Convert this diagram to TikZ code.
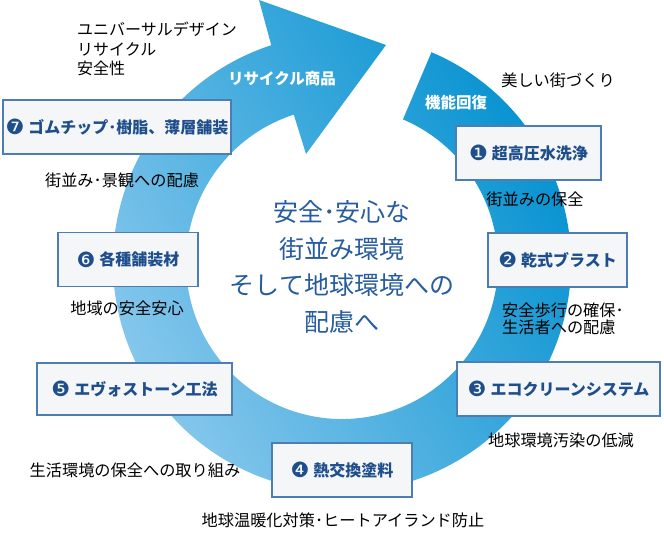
\documentclass[tikz,border=0pt]{standalone}
\usepackage{fontspec}
\setmainfont{Noto Sans CJK JP}
\newfontfamily\dv{DejaVu Sans}
\usetikzlibrary{calc}
\definecolor{ringlight}{HTML}{8DCAEE}
\definecolor{ringdark}{HTML}{0090CF}
\definecolor{boxfill}{HTML}{F4F6F7}
\definecolor{boxline}{HTML}{4C7DB3}
\definecolor{boxtext}{HTML}{1E4E8C}
\definecolor{centertext}{HTML}{275C9E}
\tikzset{
  stepbox/.style={draw=boxline, line width=1.1pt, fill=boxfill, minimum height=54pt,
    inner sep=0pt, text=boxtext, font=\fontsize{16}{18}\selectfont\bfseries},
  note/.style={text=black, inner sep=0pt, font=\fontsize{16.2}{17}\selectfont},
  ringlabel/.style={text=white, inner sep=0pt, font=\fontsize{15.5}{17}\selectfont\bfseries},
}
\newcommand{\numb}[1]{\raisebox{-1.2pt}{\fontsize{21}{21}\dv\mdseries #1}\hspace{4pt}}
\begin{document}
\begin{tikzpicture}[x=1pt,y=1pt]
\useasboundingbox (0,0) rectangle (664,549);
\coordinate (C) at (342,286);
% ring with arrow head
\shade[bottom color=ringlight, top color=ringdark, shading angle=-60]
  ($(C)+(67:229)$) arc[start angle=67, end angle=-252, radius=229]
  -- (259,549) -- (386,504) -- (306,395)
  -- ($(C)+(108:156)$) arc[start angle=108, end angle=427, radius=156] -- cycle;
\node[ringlabel] (lrecy) at (282,470) {リサイクル商品};
\node[ringlabel] (lfunc) at (456,446) {機能回復};
% boxes
\node[stepbox, minimum width=145pt] (b1) at (528.5,396) {\numb{❶}超高圧水洗浄};
\node[stepbox, minimum width=139pt] (b2) at (557.5,289) {\numb{❷}乾式ブラスト};
\node[stepbox, minimum width=203pt] (b3) at (558.5,160) {\numb{❸}エコクリーンシステム};
\node[stepbox, minimum width=140pt] (b4) at (342,79) {\numb{❹}熱交換塗料};
\node[stepbox, minimum width=195pt, minimum height=52pt] (b5) at (134.5,160) {\numb{❺}エヴォストーン工法};
\node[stepbox, minimum width=140pt] (b6) at (128,289.5) {\numb{❻}各種舗装材};
\node[stepbox, minimum width=228pt] (b7) at (117,422) {\numb{❼}ゴムチップ･樹脂、薄層舗装};
% notes
\node[note, anchor=west, align=left, font=\fontsize{16}{19.5}\selectfont] (ntop) at (77,500) {ユニバーサルデザイン\\リサイクル\\安全性};
\node[note] (n7) at (122,369) {街並み･景観への配慮};
\node[note] (n1a) at (558,469) {美しい街づくり};
\node[note] (n1) at (535,350) {街並みの保全};
\node[note, anchor=west, align=left] (n2) at (502,230.5) {安全歩行の確保･\\生活者への配慮};
\node[note] (n3) at (561,109) {地球環境汚染の低減};
\node[note] (n4) at (343,29) {地球温暖化対策･ヒートアイランド防止};
\node[note] (n5) at (135,79) {生活環境の保全への取り組み};
\node[note] (n6) at (127,241) {地域の安全安心};
% center text
\node[text=centertext, align=center, inner sep=0pt, font=\fontsize{25}{36.7}\selectfont] (ctr) at (342,282)
  {安全･安心な\\街並み環境\\そして地球環境への\\配慮へ};
\end{tikzpicture}
\end{document}
